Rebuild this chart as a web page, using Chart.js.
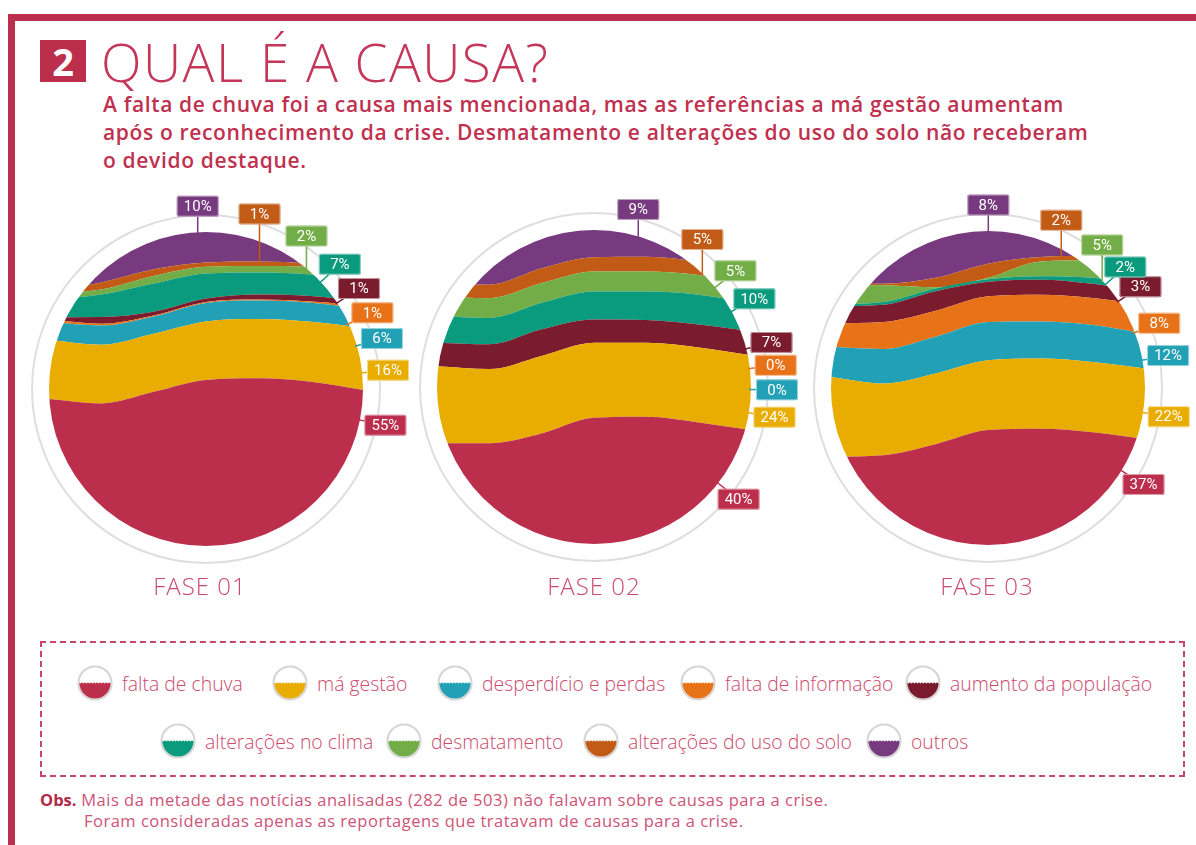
<!DOCTYPE html>
<html>
<head>
<meta charset="utf-8">
<script src="https://cdn.jsdelivr.net/npm/chart.js@4.4.0/dist/chart.umd.min.js"></script>
<style>
body{margin:0;width:1196px;height:845px;overflow:hidden;background:#fff;position:relative;font-family:'Open Sans',sans-serif}
.frame-top{position:absolute;left:8px;top:14px;width:1188px;height:7px;background:#bc2f4c}
.frame-left{position:absolute;left:8px;top:14px;width:7px;height:831px;background:#bc2f4c}
.num{position:absolute;left:40px;top:40px;width:46px;height:42px;background:#bc2f4c;color:#fff;font:700 38px/42px 'Open Sans';text-align:center}
h1{position:absolute;left:101px;top:35px;margin:0;font:300 53px/53px 'Open Sans';letter-spacing:1.5px;color:#c4375a;white-space:nowrap}
.sub{position:absolute;left:103px;top:90px;width:1080px;font:600 21px/28px 'Open Sans';letter-spacing:0.65px;color:#c0304f;white-space:nowrap}
canvas{position:absolute}
.fase{position:absolute;top:574px;width:200px;text-align:center;font:300 24px/24px 'Open Sans';letter-spacing:1px;color:#cc4a6e}
.legend{position:absolute;left:40px;top:641px;width:1145px;height:136px;border:2px dashed #c8466b;box-sizing:border-box}
.item{position:absolute;display:flex;align-items:center;height:40px;font:300 19.4px 'Open Sans';color:#cc4a6e;white-space:nowrap}
.item svg{margin-right:9px}
.obs{position:absolute;left:40px;top:789px;font:400 16.5px/21px 'Open Sans';letter-spacing:0.5px;color:#cf5377;white-space:nowrap}
.obs b{color:#b02a4a;letter-spacing:0}
</style>
</head>
<body>
<div class="frame-top"></div>
<div class="frame-left"></div>
<div class="num">2</div>
<h1>QUAL É A CAUSA?</h1>
<div class="sub">A falta de chuva foi a causa mais mencionada, mas as referências a má gestão aumentam<br>após o reconhecimento da crise. Desmatamento e alterações do uso do solo não receberam<br>o devido destaque.</div>

<canvas id="fase1" width="430" height="400" style="left:11px;top:189px"></canvas>
<canvas id="fase2" width="430" height="400" style="left:399px;top:187px"></canvas>
<canvas id="fase3" width="430" height="400" style="left:793px;top:188px"></canvas>

<div class="fase" style="left:100px">FASE 01</div>
<div class="fase" style="left:494px">FASE 02</div>
<div class="fase" style="left:887px">FASE 03</div>

<div class="legend" id="legenda"></div>

<div class="obs"><b>Obs.</b> Mais da metade das notícias analisadas (282 de 503) não falavam sobre causas para a crise.<br><span style="padding-left:44px">Foram consideradas apenas as reportagens que tratavam de causas para a crise.</span></div>

<script>
// categorias, de baixo para cima no círculo
var categorias = ["falta de chuva", "má gestão", "desperdício e perdas", "falta de informação",
  "aumento da população", "alterações no clima", "desmatamento", "alterações do uso do solo", "outros"];
var cores = ["#bc2f4c", "#e9ac00", "#22a0b5", "#e87217", "#7a1b2e", "#0a9a7d", "#72ad47", "#c25b16", "#773a7e"];

// percentuais por fase
var fase1Pct = [55, 16, 6, 1, 1, 7, 2, 1, 10];
var fase2Pct = [40, 24, 0, 0, 7, 10, 5, 5, 9];
var fase3Pct = [37, 22, 12, 8, 3, 2, 5, 2, 8];

// pontos ao longo do círculo (esq -> dir)
var pontos = ["0", "1", "2", "3", "4", "5", "6"];

// espessura de cada faixa (em % do diâmetro)
var fase1Faixas = [
  [46.8, 45.4, 49.1, 52.9, 53.4, 52.3, 49.7],
  [18.9, 18.7, 18.5, 18.6, 18.9, 19.1, 19.8],
  [5.6, 6.1, 5.5, 5.9, 5.9, 6.1, 6.1],
  [0.8, 0.6, 0.3, 0.3, 0.3, 0.4, 1.0],
  [0.7, 2.1, 1.2, 1.1, 1.6, 1.7, 1.3],
  [5.7, 7.2, 9.0, 8.0, 7.0, 6.9, 6.5],
  [1.9, 1.6, 2.4, 2.1, 2.1, 2.4, 2.7],
  [0.8, 2.2, 2.1, 1.4, 1.4, 1.1, 1.6],
  [20, 20, 15, 12, 12, 12, 15]
];
var fase2Faixas = [
  [32.1, 32.1, 35.2, 40.2, 40.5, 38.7, 36.3],
  [24.5, 23.6, 24.7, 23.9, 23.6, 23.9, 23.8],
  [0, 0, 0, 0, 0, 0, 0],
  [0, 0, 0, 0, 0, 0, 0],
  [7.5, 7.9, 8.5, 7.4, 7.2, 7.3, 7.7],
  [8.5, 8.4, 8.4, 8.9, 9.1, 9.5, 9.0],
  [6.3, 6.3, 6.3, 6.4, 6.4, 6.3, 6.3],
  [4.0, 4.3, 4.7, 4.5, 4.7, 4.2, 3.7],
  [20, 20, 15, 12, 12, 12, 15]
];
var fase3Faixas = [
  [28.1, 28.6, 32.1, 36.6, 37.0, 35.9, 33.7],
  [25.4, 22.8, 22.5, 22.2, 22.4, 22.4, 22.5],
  [9.6, 11.0, 11.7, 12.2, 11.8, 11.8, 11.2],
  [7.5, 8.6, 8.3, 8.2, 8.5, 8.6, 9.1],
  [5.4, 5.5, 6.2, 4.6, 4.8, 4.5, 4.3],
  [0.7, 0.9, 0.9, 0.8, 1.1, 1.9, 2.2],
  [6.3, 5.3, 0.4, 0.5, 4.7, 5.6, 6.4],
  [0.2, 0.5, 3.0, 4.5, 1.4, 1.4, 1.6],
  [20, 20, 15, 12, 12, 12, 15]
];

// angulo (graus) de cada etiqueta em volta do circulo
var fase1Angulos = [11.4, -5.9, -16, -24.6, -33.3, -43, -56.7, -73, -92.6];
var fase2Angulos = [37.8, 9.5, 0.9, -6.8, -14.1, -28.8, -39.4, -53.7, -76];
var fase3Angulos = [31.8, 9.0, -10.2, -20.7, -33.6, -41.4, -51.4, -66.4, -89.9];

// posicao (x, centro y) de cada item da legenda, em px da pagina
var legendaX = [77, 272, 437, 680, 905, 160, 386, 583, 866];
var legendaY = [683, 683, 683, 683, 683, 741, 741, 741, 741];

function bandTop(chart, i, x) {
  var pts = chart.getDatasetMeta(i).data;
  for (var j = 0; j < pts.length - 1; j++) {
    if (x >= pts[j].x && x <= pts[j + 1].x) {
      var t = (x - pts[j].x) / (pts[j + 1].x - pts[j].x);
      return pts[j].y + t * (pts[j + 1].y - pts[j].y);
    }
  }
  return pts[pts.length - 1].y;
}

var circlePlugin = {
  id: 'circulo',
  beforeDraw: function (chart) {
    var a = chart.chartArea, ctx = chart.ctx;
    var cx = (a.left + a.right) / 2, cy = (a.top + a.bottom) / 2;
    ctx.save();
    ctx.beginPath();
    ctx.arc(cx, cy, 174, 0, Math.PI * 2);
    ctx.strokeStyle = '#dedede';
    ctx.lineWidth = 2;
    ctx.stroke();
    ctx.restore();
  },
  beforeDatasetsDraw: function (chart) {
    var a = chart.chartArea, ctx = chart.ctx;
    ctx.save();
    ctx.beginPath();
    ctx.arc((a.left + a.right) / 2, (a.top + a.bottom) / 2, (a.right - a.left) / 2, 0, Math.PI * 2);
    ctx.clip();
  },
  afterDatasetsDraw: function (chart) {
    chart.ctx.restore();
  },
  afterDraw: function (chart) {
    var o = chart.options.plugins.circulo;
    var a = chart.chartArea, ctx = chart.ctx;
    var cx = (a.left + a.right) / 2, cy = (a.top + a.bottom) / 2, r = (a.right - a.left) / 2;
    var R = 183, w = 42, h = 21;
    ctx.save();
    o.pct.forEach(function (p, i) {
      var ang = o.angulos[i] * Math.PI / 180;
      var lx = cx + R * Math.cos(ang), ly = cy + R * Math.sin(ang);
      ctx.strokeStyle = cores[i];
      ctx.lineWidth = 1.5;
      ctx.beginPath();
      if (o.angulos[i] <= -50) {
        var circTop = cy - Math.sqrt(Math.max(0, r * r - (lx - cx) * (lx - cx)));
        var yEnd = Math.max(bandTop(chart, i, lx), circTop) + 2;
        ctx.moveTo(lx, ly);
        ctx.lineTo(lx, yEnd);
      } else {
        ctx.moveTo(lx, ly);
        ctx.lineTo(cx + (r - 2) * Math.cos(ang), cy + (r - 2) * Math.sin(ang));
      }
      ctx.stroke();
      ctx.fillStyle = cores[i];
      ctx.beginPath();
      ctx.roundRect(lx - w / 2, ly - h / 2, w, h, 2);
      ctx.fill();
      ctx.strokeStyle = 'rgba(255,255,255,0.55)';
      ctx.lineWidth = 1;
      ctx.beginPath();
      ctx.roundRect(lx - w / 2 + 0.5, ly - h / 2 + 0.5, w - 1, h - 1, 2);
      ctx.stroke();
      ctx.fillStyle = '#fff';
      ctx.font = '15px Roboto';
      ctx.textAlign = 'center';
      ctx.textBaseline = 'middle';
      ctx.fillText(p + '%', lx, ly + 1);
    });
    ctx.restore();
  }
};

function desenhaFase(id, faixas, pct, angulos) {
  new Chart(document.getElementById(id), {
    type: 'line',
    data: {
      labels: pontos,
      datasets: categorias.map(function (c, i) {
        return {
          label: c,
          data: faixas[i],
          backgroundColor: cores[i],
          borderWidth: 0,
          pointRadius: 0,
          fill: i === 0 ? 'origin' : '-1',
          cubicInterpolationMode: 'monotone'
        };
      })
    },
    options: {
      responsive: false,
      animation: false,
      layout: { padding: { left: 38, right: 78, top: 43, bottom: 43 } },
      scales: {
        x: { display: false },
        y: { display: false, stacked: true, min: 0, max: 100 }
      },
      plugins: {
        legend: { display: false },
        tooltip: { enabled: false },
        circulo: { pct: pct, angulos: angulos }
      }
    },
    plugins: [circlePlugin]
  });
}

desenhaFase('fase1', fase1Faixas, fase1Pct, fase1Angulos);
desenhaFase('fase2', fase2Faixas, fase2Pct, fase2Angulos);
desenhaFase('fase3', fase3Faixas, fase3Pct, fase3Angulos);

// legenda
function icone(cor, k) {
  var bumps = '';
  for (var x = 2; x < 36; x += 3) bumps += '<circle cx="' + x + '" cy="19" r="1.6" fill="' + cor + '"/>';
  return '<svg width="36" height="36" viewBox="0 0 36 36"><defs><clipPath id="cl' + k + '"><circle cx="18" cy="18" r="15.5"/></clipPath></defs>' +
    '<circle cx="18" cy="18" r="16.5" fill="#fff" stroke="#d6d6d6" stroke-width="2.2"/>' +
    '<g clip-path="url(#cl' + k + ')"><rect x="0" y="19" width="36" height="17" fill="' + cor + '"/>' + bumps + '</g></svg>';
}
var leg = document.getElementById('legenda');
categorias.forEach(function (c, i) {
  var el = document.createElement('div');
  el.className = 'item';
  el.style.left = (legendaX[i] - 42) + 'px';
  el.style.top = (legendaY[i] - 643 - 20) + 'px';
  el.innerHTML = icone(cores[i], i) + '<span>' + c + '</span>';
  leg.appendChild(el);
});
</script>
</body>
</html>
